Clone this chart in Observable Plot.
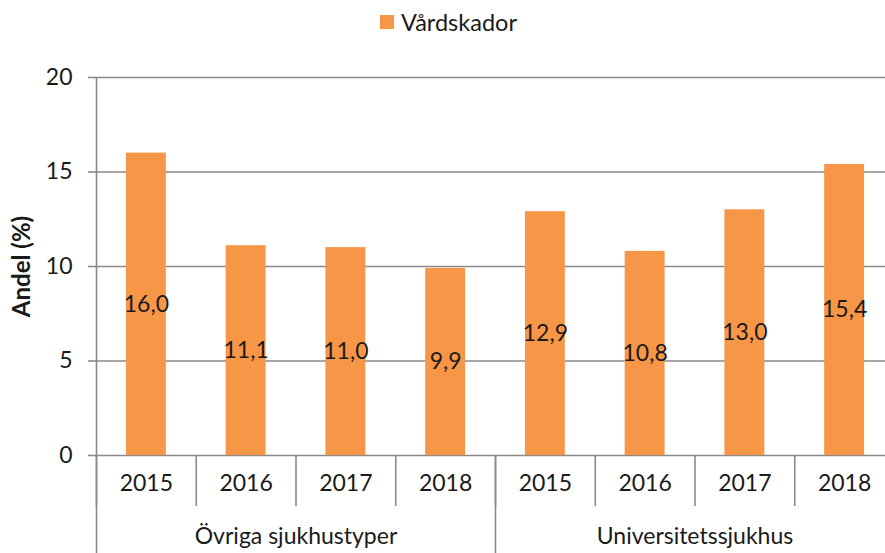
<!DOCTYPE html>
<html>
<head>
<meta charset="utf-8">
<script src="https://cdn.jsdelivr.net/npm/d3@7"></script>
<script src="https://cdn.jsdelivr.net/npm/@observablehq/plot@0.6"></script>
<style>
  html, body { margin: 0; padding: 0; background: #fff; overflow: hidden; width: 885px; height: 553px; }
  #legend { height: 45px; position: relative; font-family: Lato, sans-serif; font-size: 23.5px; color: #1a1a1a; }
  #legend .sw { position: absolute; left: 380px; top: 15px; width: 14px; height: 14px; background: #F79646; }
  #legend .lb { position: absolute; left: 401px; top: 7px; line-height: 30px; }
</style>
</head>
<body>
<div id="legend"><span class="sw"></span><span class="lb">Vårdskador</span></div>
<div id="chart"></div>
<script>
const groups = ["Övriga sjukhustyper", "Universitetssjukhus"];
const years = ["2015", "2016", "2017", "2018"];
const values = [16.0, 11.1, 11.0, 9.9, 12.9, 10.8, 13.0, 15.4];
const yTicks = [0, 5, 10, 15, 20];
const yLabel = "Andel (%)";

const data = values.map((v, i) => ({
  i,
  group: groups[Math.floor(i / years.length)],
  year: years[i % years.length],
  value: v
}));
const boundaries = d3.range(0, values.length + 1);
const groupBoundaries = d3.range(0, values.length + 1, years.length);
const gray = "#8a8a8a";
const fmt = v => v.toFixed(1).replace(".", ",");

const chart = Plot.plot({
  width: 885,
  height: 508,
  marginLeft: 96,
  marginRight: 0,
  marginTop: 32,
  marginBottom: 98,
  x: { type: "linear", domain: [0, values.length], range: [96, 894] },
  y: { domain: [0, 20], range: [410, 32] },
  style: { fontFamily: "Lato, sans-serif", fontSize: "23px", color: "#1a1a1a", background: "#fff" },
  marks: [
    Plot.ruleY(yTicks, { stroke: gray, strokeWidth: 1.6 }),
    Plot.ruleX([0], { stroke: gray, strokeWidth: 1.6 }),
    Plot.axisY(yTicks, { tickSize: 8, tickPadding: 16, stroke: gray, strokeWidth: 1.6, label: null, fontSize: 23 }),
    Plot.axisX(boundaries, { tickSize: 51, stroke: gray, strokeWidth: 1.6, fill: null, label: null }),
    Plot.axisX(groupBoundaries, { tickSize: 100, stroke: gray, strokeWidth: 1.6, fill: null, label: null }),
    Plot.rectY(data, { x1: d => d.i + 0.3, x2: d => d.i + 0.7, y: "value", fill: "#F79646" }),
    Plot.text(data, { x: d => d.i + 0.5, y: d => d.value / 2, text: d => fmt(d.value), fontSize: 23, fill: "#1a1a1a" }),
    Plot.text(data, { x: d => d.i + 0.5, text: "year", frameAnchor: "bottom", dy: 35, fontSize: 23, fill: "#1a1a1a" }),
    Plot.text(groups, { x: (d, i) => i * years.length + years.length / 2, text: d => d, frameAnchor: "bottom", dy: 88, fontSize: 23, fill: "#1a1a1a" }),
    Plot.text([yLabel], { text: d => d, frameAnchor: "left", textAnchor: "middle", dx: -74, rotate: -90, fontSize: 24, fontWeight: "bold", fill: "#1a1a1a" })
  ]
});
document.getElementById("chart").appendChild(chart);
</script>
</body>
</html>
